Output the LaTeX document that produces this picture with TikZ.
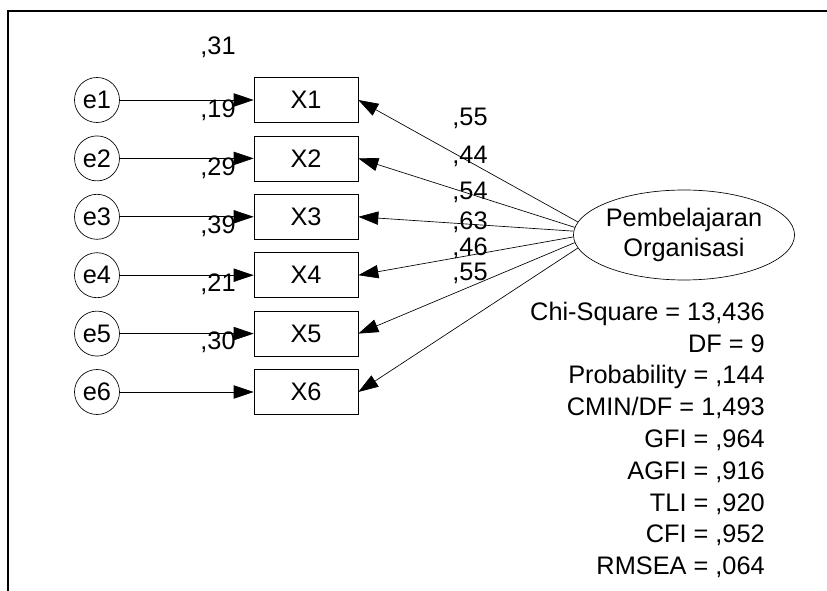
\documentclass[tikz,border=0pt]{standalone}
\usepackage{fontspec}
\setmainfont{Liberation Sans}
\usetikzlibrary{arrows.meta,shapes.geometric}

\begin{document}
\begin{tikzpicture}[x=0.75pt,y=-0.75pt,
  font=\fontsize{19}{22.5}\selectfont,
  err/.style={draw,circle,minimum size=33.75pt,inner sep=0pt,line width=0.5pt},
  obs/.style={draw,rectangle,minimum width=78pt,minimum height=33.75pt,inner sep=0pt,line width=0.5pt},
  lat/.style={draw,ellipse,minimum width=156.75pt,minimum height=67.5pt,inner sep=0pt,align=center,line width=0.5pt},
  arr/.style={line width=0.5pt,-{Triangle[length=15pt,width=10pt]}},
  coef/.style={inner sep=0pt}]
\useasboundingbox (0,0) rectangle (827,591);
\draw[line width=2pt] (8,591) -- (8,11) -- (827,11);
% error terms
\node[err] (e1) at (97,100) {e1};
\node[err] (e2) at (97,158.4) {e2};
\node[err] (e3) at (97,216.8) {e3};
\node[err] (e4) at (97,275.2) {e4};
\node[err] (e5) at (97,333.6) {e5};
\node[err] (e6) at (97,392) {e6};
% indicators
\node[obs] (X1) at (306,100) {X1};
\node[obs] (X2) at (306,158.4) {X2};
\node[obs] (X3) at (306,216.8) {X3};
\node[obs] (X4) at (306,275.2) {X4};
\node[obs] (X5) at (306,333.6) {X5};
\node[obs] (X6) at (306,392) {X6};
% latent
\node[lat] (F) at (684,235) {Pembelajaran\\Organisasi};
\draw[arr] (e1) -- (X1);
\draw[arr] (e2) -- (X2);
\draw[arr] (e3) -- (X3);
\draw[arr] (e4) -- (X4);
\draw[arr] (e5) -- (X5);
\draw[arr] (e6) -- (X6);
\draw[arr] (F.173) -- (X1.east);
\draw[arr] (F.176) -- (X2.east);
\draw[arr] (F.178.5) -- (X3.east);
\draw[arr] (F.181) -- (X4.east);
\draw[arr] (F.184) -- (X5.east);
\draw[arr] (F.187) -- (X6.east);
% squared multiple correlations
\node[coef] (r1) at (218,47) {,31};
\node[coef] (r2) at (218,110) {,19};
\node[coef] (r3) at (218,168) {,29};
\node[coef] (r4) at (218,226) {,39};
\node[coef] (r5) at (218,284) {,21};
\node[coef] (r6) at (218,342) {,30};
% loadings
\node[coef] (l1) at (470,118) {,55};
\node[coef] (l2) at (470,156) {,44};
\node[coef] (l3) at (470,192) {,54};
\node[coef] (l4) at (470,222) {,63};
\node[coef] (l5) at (470,248) {,46};
\node[coef] (l6) at (470,273) {,55};
% fit indices
\node[coef,anchor=east,align=right,font=\fontsize{19}{23.85}\selectfont] (fit) at (765,440)
  {Chi-Square = 13,436\\DF = 9\\Probability = ,144\\CMIN/DF = 1,493\\GFI = ,964\\AGFI = ,916\\TLI = ,920\\CFI = ,952\\RMSEA = ,064};
\end{tikzpicture}
\end{document}
